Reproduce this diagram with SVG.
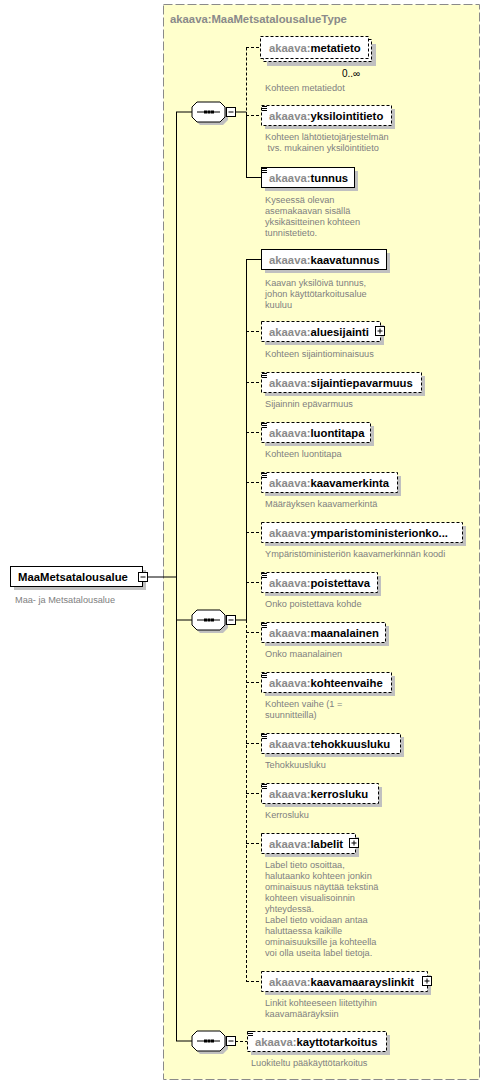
<svg xmlns="http://www.w3.org/2000/svg" width="490" height="1086" viewBox="0 0 490 1086">
<style>
.bg{fill:#ffffcc;stroke:#8a8a8a;stroke-width:1;stroke-dasharray:9,3}
.sh{fill:#c0c0c0;stroke:none}
.bx{fill:#fff;stroke:#000;stroke-width:1}
.bd{fill:#fff;stroke:#000;stroke-width:1;stroke-dasharray:3,2}
.nm{font-family:"Liberation Sans",Arial,sans-serif;font-size:11.3px;font-weight:bold;fill:#000}
.px{fill:#8a8a8a}
.ds{font-family:"Liberation Sans",Arial,sans-serif;font-size:9.2px;fill:#808080}
.ttl{font-family:"Liberation Sans",Arial,sans-serif;font-size:11.3px;font-weight:bold;fill:#8a8a8a}
.ln{stroke:#000;stroke-width:1;fill:none}
.dl{stroke:#000;stroke-width:1;fill:none;stroke-dasharray:3,2}
.ic{stroke:#000;stroke-width:1;fill:none}
.oc{fill:#fff;stroke:#000;stroke-width:1}
</style>
<defs>
<g id="seq">
<path class="sh" d="M200,105 H223 L228,110 V120 L223,125 H200 L195,120 V110 Z"/>
<path class="oc" d="M197,102 H220 L225,107 V117 L220,122 H197 L192,117 V107 Z"/>
<line class="ln" x1="197" y1="112" x2="220" y2="112"/>
<rect x="204" y="110.5" width="3" height="3" fill="#000"/>
<rect x="207.5" y="110.5" width="3" height="3" fill="#000"/>
<rect x="211" y="110.5" width="3" height="3" fill="#000"/>
<rect class="bx" x="226.5" y="107.5" width="9" height="9"/>
<line class="ln" x1="228.5" y1="112" x2="233.5" y2="112"/>
</g>
<g id="icon">
<path class="ic" d="M262,106.5 H267 M262,108.5 H267 M262,110.5 H267"/>
</g>
<g id="plus">
<rect class="bx" x="0.5" y="0.5" width="9" height="9"/>
<path class="ln" d="M2.5,5 H7.5 M5,2.5 V7.5"/>
</g>
</defs>

<rect class="bg" x="163.5" y="4.5" width="316" height="1075"/>
<text class="ttl" x="170" y="23">akaava:MaaMetsatalousalueType</text>

<g id="connectors">
<line class="ln" x1="148" y1="577" x2="176.5" y2="577"/>
<line class="ln" x1="176.5" y1="112" x2="176.5" y2="1041"/>
<line class="ln" x1="176" y1="112" x2="192" y2="112"/>
<line class="ln" x1="176" y1="620" x2="192" y2="620"/>
<line class="ln" x1="176" y1="1041" x2="192" y2="1041"/>
<line class="ln" x1="235" y1="112" x2="246.5" y2="112"/>
<line class="dl" x1="246.5" y1="47.5" x2="246.5" y2="112"/>
<line class="ln" x1="246.5" y1="112" x2="246.5" y2="177.5"/>
<line class="dl" x1="246" y1="47.5" x2="261" y2="47.5"/>
<line class="dl" x1="246" y1="115.5" x2="261" y2="115.5"/>
<line class="ln" x1="246" y1="177.5" x2="261" y2="177.5"/>
<line class="ln" x1="235" y1="620" x2="246.5" y2="620"/>
<line class="ln" x1="246.5" y1="259.5" x2="246.5" y2="620"/>
<line class="dl" x1="246.5" y1="620" x2="246.5" y2="981.5"/>
<line class="ln" x1="246" y1="259.5" x2="261" y2="259.5"/>
<line class="dl" x1="246" y1="331.5" x2="261" y2="331.5"/>
<line class="dl" x1="246" y1="382.5" x2="261" y2="382.5"/>
<line class="dl" x1="246" y1="432.5" x2="261" y2="432.5"/>
<line class="dl" x1="246" y1="482.5" x2="261" y2="482.5"/>
<line class="dl" x1="246" y1="532.5" x2="261" y2="532.5"/>
<line class="dl" x1="246" y1="582.5" x2="261" y2="582.5"/>
<line class="dl" x1="246" y1="632.5" x2="261" y2="632.5"/>
<line class="dl" x1="246" y1="682.5" x2="261" y2="682.5"/>
<line class="dl" x1="246" y1="743.5" x2="261" y2="743.5"/>
<line class="dl" x1="246" y1="793.5" x2="261" y2="793.5"/>
<line class="dl" x1="246" y1="843.5" x2="261" y2="843.5"/>
<line class="dl" x1="246" y1="981.5" x2="261" y2="981.5"/>
<line class="dl" x1="235" y1="1041.5" x2="247" y2="1041.5"/>
</g>

<g id="seq1"><use href="#seq"/></g>
<g id="seq2"><use href="#seq" transform="translate(0,508)"/></g>
<g id="seq3"><use href="#seq" transform="translate(0,929)"/></g>

<g id="MaaMetsatalousalue">
<rect class="sh" x="14" y="570" width="132" height="20"/>
<rect class="bx" x="10.5" y="566.5" width="132" height="20"/>
<text class="nm" x="18" y="581">MaaMetsatalousalue</text>
<rect class="bx" x="138.5" y="572.5" width="9" height="9"/>
<line class="ln" x1="140.5" y1="577" x2="145.5" y2="577"/>
<text class="ds" x="15" y="603">Maa- ja Metsatalousalue</text>
</g>

<g id="metatieto">
<rect class="sh" x="267" y="44" width="109" height="22"/>
<rect class="bd" x="263.5" y="39.5" width="108" height="22"/>
<rect class="bd" x="260.5" y="36.5" width="108" height="22"/>
<text class="nm" x="269" y="52"><tspan class="px">akaava:</tspan>metatieto</text>
<text x="342" y="77" font-family="Liberation Sans,Arial,sans-serif" font-size="10px" fill="#000">0..∞</text>
<text class="ds" x="265" y="91">Kohteen metatiedot</text>
</g>

<g id="yksilointitieto">
<rect class="sh" x="265" y="109" width="130" height="20"/>
<rect class="bd" x="261.5" y="105.5" width="130" height="20"/>
<use href="#icon"/>
<text class="nm" x="269" y="120"><tspan class="px">akaava:</tspan>yksilointitieto</text>
<text class="ds" x="265" y="140">Kohteen lähtötietojärjestelmän</text>
<text class="ds" x="267.5" y="151">tvs. mukainen yksilöintitieto</text>
</g>

<g id="tunnus">
<rect class="sh" x="265" y="171" width="93" height="20"/>
<rect class="bx" x="261.5" y="167.5" width="93" height="20"/>
<use href="#icon" transform="translate(0,62)"/>
<text class="nm" x="269" y="182"><tspan class="px">akaava:</tspan>tunnus</text>
<text class="ds" x="265" y="203">Kyseessä olevan</text>
<text class="ds" x="265" y="214">asemakaavan sisällä</text>
<text class="ds" x="265" y="225">yksikäsitteinen kohteen</text>
<text class="ds" x="265" y="236">tunnistetieto.</text>
</g>

<g id="kaavatunnus">
<rect class="sh" x="265" y="253" width="125" height="20"/>
<rect class="bx" x="261.5" y="249.5" width="125" height="20"/>
<text class="nm" x="269" y="264"><tspan class="px">akaava:</tspan>kaavatunnus</text>
<text class="ds" x="265" y="286">Kaavan yksilöivä tunnus,</text>
<text class="ds" x="265" y="297">johon käyttötarkoitusalue</text>
<text class="ds" x="265" y="308">kuuluu</text>
</g>

<g id="aluesijainti">
<rect class="sh" x="265" y="325" width="119" height="20"/>
<rect class="bd" x="261.5" y="321.5" width="119" height="20"/>
<text class="nm" x="269" y="336"><tspan class="px">akaava:</tspan>aluesijainti</text>
<use href="#plus" transform="translate(375,326)"/>
<text class="ds" x="265" y="357">Kohteen sijaintiominaisuus</text>
</g>

<g id="sijaintiepavarmuus">
<rect class="sh" x="265" y="376" width="160" height="20"/>
<rect class="bd" x="261.5" y="372.5" width="160" height="20"/>
<use href="#icon" transform="translate(0,267)"/>
<text class="nm" x="269" y="387"><tspan class="px">akaava:</tspan>sijaintiepavarmuus</text>
<text class="ds" x="265" y="407">Sijainnin epävarmuus</text>
</g>

<g id="luontitapa">
<rect class="sh" x="265" y="426" width="109" height="20"/>
<rect class="bd" x="261.5" y="422.5" width="109" height="20"/>
<use href="#icon" transform="translate(0,317)"/>
<text class="nm" x="269" y="437"><tspan class="px">akaava:</tspan>luontitapa</text>
<text class="ds" x="265" y="457">Kohteen luontitapa</text>
</g>

<g id="kaavamerkinta">
<rect class="sh" x="265" y="476" width="136" height="20"/>
<rect class="bd" x="261.5" y="472.5" width="136" height="20"/>
<use href="#icon" transform="translate(0,367)"/>
<text class="nm" x="269" y="487"><tspan class="px">akaava:</tspan>kaavamerkinta</text>
<text class="ds" x="265" y="507">Määräyksen kaavamerkintä</text>
</g>

<g id="ymparistoministerionkoodi">
<rect class="sh" x="265" y="526" width="201" height="20"/>
<rect class="bd" x="261.5" y="522.5" width="201" height="20"/>
<text class="nm" x="269" y="537"><tspan class="px">akaava:</tspan>ymparistoministerionko...</text>
<text class="ds" x="265" y="557">Ympäristöministeriön kaavamerkinnän koodi</text>
</g>

<g id="poistettava">
<rect class="sh" x="265" y="576" width="116" height="20"/>
<rect class="bd" x="261.5" y="572.5" width="116" height="20"/>
<use href="#icon" transform="translate(0,467)"/>
<text class="nm" x="269" y="587"><tspan class="px">akaava:</tspan>poistettava</text>
<text class="ds" x="265" y="607">Onko poistettava kohde</text>
</g>

<g id="maanalainen">
<rect class="sh" x="265" y="626" width="124" height="20"/>
<rect class="bd" x="261.5" y="622.5" width="124" height="20"/>
<use href="#icon" transform="translate(0,517)"/>
<text class="nm" x="269" y="637"><tspan class="px">akaava:</tspan>maanalainen</text>
<text class="ds" x="265" y="657">Onko maanalainen</text>
</g>

<g id="kohteenvaihe">
<rect class="sh" x="265" y="676" width="130" height="20"/>
<rect class="bd" x="261.5" y="672.5" width="130" height="20"/>
<use href="#icon" transform="translate(0,567)"/>
<text class="nm" x="269" y="687"><tspan class="px">akaava:</tspan>kohteenvaihe</text>
<text class="ds" x="265" y="707">Kohteen vaihe (1 =</text>
<text class="ds" x="265" y="718">suunnitteilla)</text>
</g>

<g id="tehokkuusluku">
<rect class="sh" x="265" y="737" width="139" height="20"/>
<rect class="bd" x="261.5" y="733.5" width="139" height="20"/>
<use href="#icon" transform="translate(0,628)"/>
<text class="nm" x="269" y="748"><tspan class="px">akaava:</tspan>tehokkuusluku</text>
<text class="ds" x="265" y="768">Tehokkuusluku</text>
</g>

<g id="kerrosluku">
<rect class="sh" x="265" y="787" width="117" height="20"/>
<rect class="bd" x="261.5" y="783.5" width="117" height="20"/>
<use href="#icon" transform="translate(0,678)"/>
<text class="nm" x="269" y="798"><tspan class="px">akaava:</tspan>kerrosluku</text>
<text class="ds" x="265" y="818">Kerrosluku</text>
</g>

<g id="labelit">
<rect class="sh" x="265" y="837" width="94" height="20"/>
<rect class="bd" x="261.5" y="833.5" width="94" height="20"/>
<text class="nm" x="269" y="848"><tspan class="px">akaava:</tspan>labelit</text>
<use href="#plus" transform="translate(349,838)"/>
<text class="ds" x="265" y="868">Label tieto osoittaa,</text>
<text class="ds" x="265" y="879">halutaanko kohteen jonkin</text>
<text class="ds" x="265" y="890">ominaisuus näyttää tekstinä</text>
<text class="ds" x="265" y="901">kohteen visualisoinnin</text>
<text class="ds" x="265" y="912">yhteydessä.</text>
<text class="ds" x="265" y="923">Label tieto voidaan antaa</text>
<text class="ds" x="265" y="934">haluttaessa kaikille</text>
<text class="ds" x="265" y="945">ominaisuuksille ja kohteella</text>
<text class="ds" x="265" y="956">voi olla useita label tietoja.</text>
</g>

<g id="kaavamaarayslinkit">
<rect class="sh" x="265" y="975" width="166" height="20"/>
<rect class="bd" x="261.5" y="971.5" width="166" height="20"/>
<text class="nm" x="269" y="986"><tspan class="px">akaava:</tspan>kaavamaarayslinkit</text>
<use href="#plus" transform="translate(422,976)"/>
<text class="ds" x="265" y="1006">Linkit kohteeseen liitettyihin</text>
<text class="ds" x="265" y="1017">kaavamääräyksiin</text>
</g>

<g id="kayttotarkoitus">
<rect class="sh" x="251" y="1035" width="139" height="20"/>
<rect class="bd" x="247.5" y="1031.5" width="139" height="20"/>
<use href="#icon" transform="translate(-14,925)"/>
<text class="nm" x="255" y="1046"><tspan class="px">akaava:</tspan>kayttotarkoitus</text>
<text class="ds" x="251" y="1066">Luokiteltu pääkäyttötarkoitus</text>
</g>
</svg>
